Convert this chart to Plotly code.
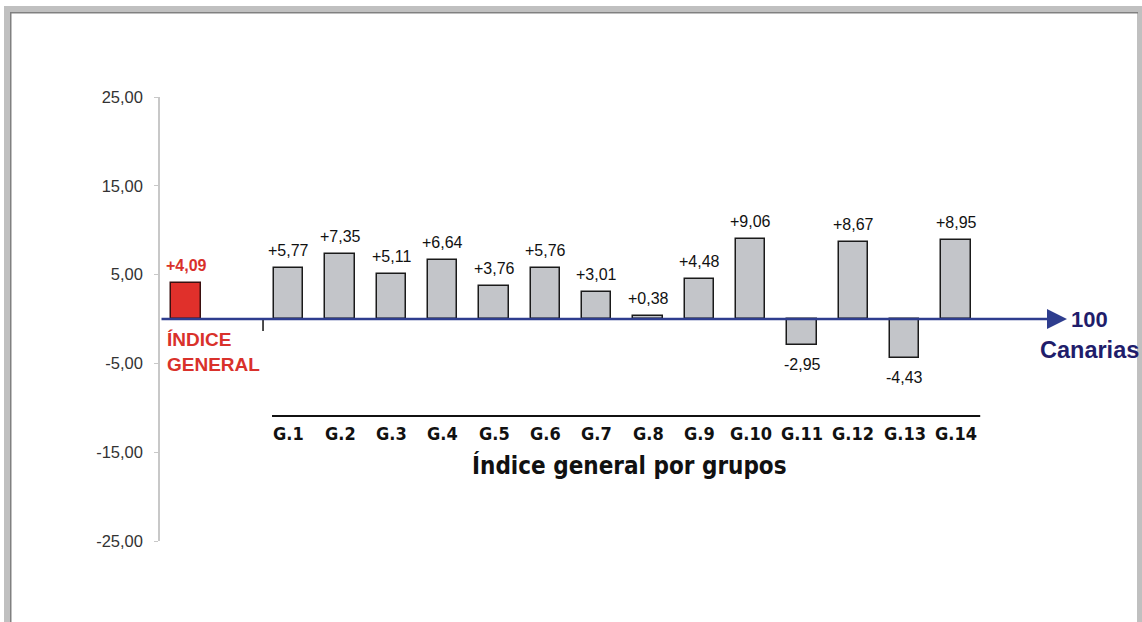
import plotly.graph_objects as go

# ---- data ----
general_label = "ÍNDICE<br>GENERAL"
general_value = 4.09
groups = ["G.1", "G.2", "G.3", "G.4", "G.5", "G.6", "G.7",
          "G.8", "G.9", "G.10", "G.11", "G.12", "G.13", "G.14"]
group_values = [5.77, 7.35, 5.11, 6.64, 3.76, 5.76, 3.01,
                0.38, 4.48, 9.06, -2.95, 8.67, -4.43, 8.95]
y_ticks = [25, 15, 5, -5, -15, -25]
y_ticktext = ["25,00", "15,00", "5,00", "-5,00", "-15,00", "-25,00"]
x_title = "Índice general por grupos"
ref_main = "100"
ref_sub = "Canarias"

# ---- layout helpers (pixels) ----
W, H = 1142, 622
L, R, T, B = 160, 1068, 97, 541
pos_general = 0
group_pos = [i + 2 for i in range(len(groups))]
x_lo, x_hi = -0.507, 17.18

NARROW = "DejaVu Sans Condensed, Arial Narrow, Liberation Sans"
ARIAL = "Liberation Sans, Arial"


def px_x(p):
    return (p - L) / (R - L)


def px_y(p):
    return (B - p) / (B - T)


def fmt(v):
    return f"{v:+.2f}".replace(".", ",")


fig = go.Figure()

fig.add_trace(go.Bar(
    x=[pos_general], y=[general_value], width=0.57,
    marker=dict(color="#e0302b", line=dict(color="#3a1010", width=1.5)),
    hoverinfo="skip", showlegend=False))

fig.add_trace(go.Bar(
    x=group_pos, y=group_values, width=0.57,
    marker=dict(color="#c3c5c9", line=dict(color="#1a1a1a", width=1.5)),
    hoverinfo="skip", showlegend=False))

ann = []
# value labels
ann.append(dict(x=pos_general, y=general_value, text=fmt(general_value),
                showarrow=False, xanchor="center", yanchor="bottom", yshift=7,
                font=dict(family=ARIAL, size=16, color="#d9312b", weight="bold")))
for p, v in zip(group_pos, group_values):
    ann.append(dict(x=p, y=v, text=fmt(v), showarrow=False, xanchor="center",
                    yanchor="bottom" if v >= 0 else "top",
                    yshift=7 if v >= 0 else -9,
                    font=dict(family=ARIAL, size=16, color="#111")))
# group labels
for p, g in zip(group_pos, groups):
    ann.append(dict(x=p, y=px_y(433), xref="x", yref="paper", text=g, showarrow=False,
                    xanchor="center", yanchor="middle",
                    font=dict(family=NARROW, size=18, color="#111", weight="bold")))
# axis title
ann.append(dict(x=px_x(629), y=px_y(465), xref="paper", yref="paper", text=x_title,
                showarrow=False, xanchor="center", yanchor="middle",
                font=dict(family=NARROW, size=24, color="#111", weight="bold")))
# general label
ann.append(dict(x=px_x(165), y=px_y(352), xref="paper", yref="paper", text=general_label,
                showarrow=False, xanchor="left", yanchor="middle", align="left",
                font=dict(family=ARIAL, size=19, color="#d9312b", weight="bold")))
# arrow on zero line
ann.append(dict(x=x_hi - 0.02, y=0, ax=x_lo, ay=0, axref="x", ayref="y", xref="x", yref="y",
                showarrow=True, arrowhead=2, arrowsize=1.6, arrowwidth=2.5, arrowcolor="#2e3d8e",
                text=""))
ann.append(dict(x=px_x(1069), y=0, xref="paper", yref="y", text=ref_main, showarrow=False,
                xanchor="left", yanchor="middle",
                font=dict(family=ARIAL, size=22, color="#1f1d6b", weight="bold")))
ann.append(dict(x=px_x(1141), y=px_y(350), xref="paper", yref="paper", text=ref_sub, showarrow=False,
                xanchor="right", yanchor="middle",
                font=dict(family=ARIAL, size=23.5, color="#1f1d6b", weight="bold")))

shapes = [
    # frame
    dict(type="rect", xref="paper", yref="paper", x0=px_x(4), x1=px_x(1142), y0=px_y(622), y1=px_y(6),
         fillcolor="#c0c0c0", line=dict(width=0), layer="below"),
    dict(type="rect", xref="paper", yref="paper", x0=px_x(10), x1=px_x(1138), y0=px_y(622), y1=px_y(12),
         fillcolor="#808080", line=dict(width=0), layer="below"),
    dict(type="rect", xref="paper", yref="paper", x0=px_x(11.5), x1=px_x(1137.5), y0=px_y(622), y1=px_y(13.5),
         fillcolor="#ffffff", line=dict(width=0), layer="below"),
    # separator line above group labels
    dict(type="line", xref="x", yref="paper", x0=1.675, x1=15.47, y0=px_y(416), y1=px_y(416),
         line=dict(color="#111", width=1.8)),
    # small tick
    dict(type="line", xref="x", yref="paper", x0=1.5, x1=1.5, y0=px_y(320), y1=px_y(331),
         line=dict(color="#111", width=1.5)),
]

fig.update_layout(
    width=W, height=H,
    margin=dict(l=L, r=W - R, t=T, b=H - B, pad=0),
    paper_bgcolor="#ffffff", plot_bgcolor="rgba(0,0,0,0)",
    bargap=0, annotations=ann, shapes=shapes,
    xaxis=dict(range=[x_lo, x_hi], visible=False, fixedrange=True),
    yaxis=dict(range=[-25, 25], tickvals=y_ticks, ticktext=y_ticktext,
               showgrid=False, zeroline=False, showline=True, linecolor="#c8c8c8", linewidth=1.5,
               ticks="outside", ticklen=4, tickcolor="#c8c8c8", tickwidth=1.2,
               ticklabelstandoff=8,
               tickfont=dict(family=ARIAL, size=16.5, color="#333"),
               fixedrange=True),
)

fig.write_html("out.html", config={"displayModeBar": False},
               post_script="document.body.style.margin='0';document.body.style.overflow='hidden';")
